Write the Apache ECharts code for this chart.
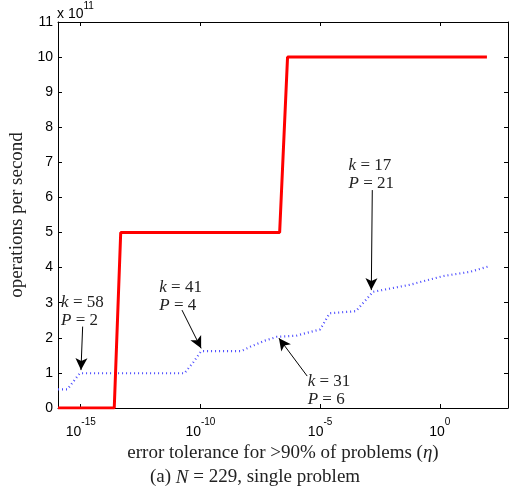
<!DOCTYPE html>
<html>
<head>
<meta charset="utf-8">
<script src="https://cdn.jsdelivr.net/npm/echarts@6/dist/echarts.min.js"></script>
<style>
  html, body { margin: 0; padding: 0; background: #fff; }
  #chart { width: 510px; height: 494px; }
</style>
</head>
<body>
<div id="chart"></div>
<script>
// x 是误差容限的指数 (log10 eta)，y 单位是 1e11 次/秒
var redExp = [-15.95, -13.6, -13.33, -6.69, -6.36, 1.97];
var redOps = [0, 0, 5, 5, 10, 10];

var blueExp = [-15.95, -15.56, -15.3, -15.04, -10.67, -10.3, -9.97, -8.3, -7.9, -7.3, -6.8, -6.0, -5.0, -4.6, -3.5, -2.93, -2.8, -1.26, 0.14, 1.26, 2.02];
var blueOps = [0.53, 0.53, 0.76, 0.99, 0.99, 1.3, 1.62, 1.62, 1.75, 1.92, 2.03, 2.06, 2.24, 2.70, 2.76, 3.2, 3.31, 3.51, 3.76, 3.88, 4.03];

var xTicks = [-15, -10, -5, 0];

// 标注：文字位置 + 箭头 (尾 -> 头)
var notes = [
  { k: 58, P: 2,  text: [-15.82, 2.74], from: [-14.92, 2.32], to: [-14.99, 1.08] },
  { k: 41, P: 4,  text: [-11.72, 3.19], from: [-10.77, 2.79], to: [-9.97, 1.70] },
  { k: 31, P: 6,  text: [-5.52, 0.49],  from: [-5.54, 0.91],  to: [-6.72, 1.99] },
  { k: 17, P: 21, text: [-3.81, 6.64],  from: [-2.82, 6.21],  to: [-2.86, 3.36] }
];

function zip(a, b) {
  return a.map(function (v, i) { return [v, b[i]]; });
}

var serif = '"Liberation Serif", "DejaVu Serif", serif';
var sans = '"Liberation Sans", Arial, sans-serif';

var chart = echarts.init(document.getElementById('chart'));

var option = {
  animation: false,
  backgroundColor: '#fff',
  grid: { left: 58, right: 2, top: 22, bottom: 86, outerBoundsMode: 'none', containLabel: false },
  xAxis: [{
    type: 'value',
    min: -15.95,
    max: 2.85,
    name: 'error tolerance for >90% of problems ({i|η})',
    nameLocation: 'middle',
    nameGap: 22,
    nameTextStyle: {
      fontFamily: serif, fontSize: 19, color: '#222',
      rich: { i: { fontFamily: serif, fontSize: 19, fontStyle: 'italic', color: '#222' } }
    },
    axisLine: { onZero: false, lineStyle: { color: '#000', width: 1 } },
    axisTick: { inside: true, length: 4, customValues: xTicks, lineStyle: { color: '#000' } },
    axisLabel: {
      customValues: xTicks,
      margin: 9,
      formatter: function (v) { return '{b|10}{s|' + v + '}'; },
      rich: {
        b: { fontFamily: sans, fontSize: 14, color: '#000', verticalAlign: 'bottom' },
        s: { fontFamily: sans, fontSize: 10, color: '#000', verticalAlign: 'top', padding: [0, 0, 12, 0] }
      }
    },
    splitLine: { show: false }
  }, {
    type: 'value',
    position: 'top',
    min: -15.95,
    max: 2.85,
    axisLine: { onZero: false, lineStyle: { color: '#000', width: 1 } },
    axisTick: { inside: true, length: 4, customValues: xTicks, lineStyle: { color: '#000' } },
    axisLabel: { show: false },
    splitLine: { show: false }
  }],
  yAxis: [{
    type: 'value',
    min: 0,
    max: 11,
    interval: 1,
    name: 'operations per second',
    nameLocation: 'middle',
    nameGap: 25,
    nameTextStyle: { fontFamily: serif, fontSize: 19, color: '#222' },
    axisLine: { show: true, onZero: false, lineStyle: { color: '#000', width: 1 } },
    axisTick: { show: true, inside: true, length: 4, lineStyle: { color: '#000' } },
    axisLabel: { fontFamily: sans, fontSize: 14, color: '#000', margin: 5 },
    splitLine: { show: false }
  }, {
    type: 'value',
    position: 'right',
    min: 0,
    max: 11,
    interval: 1,
    axisLine: { show: true, onZero: false, lineStyle: { color: '#000', width: 1 } },
    axisTick: { show: true, inside: true, length: 4, lineStyle: { color: '#000' } },
    axisLabel: { show: false },
    splitLine: { show: false }
  }],
  graphic: [{
    type: 'text',
    left: 57,
    top: 1,
    style: {
      text: '{b|x 10}{s|11}',
      rich: {
        b: { fontFamily: sans, fontSize: 14, fill: '#000', verticalAlign: 'bottom' },
        s: { fontFamily: sans, fontSize: 10, fill: '#000', verticalAlign: 'top', padding: [0, 0, 10, 0] }
      }
    }
  }, {
    type: 'text',
    left: 'center',
    top: 468,
    style: {
      text: '(a) {i|N} = 229, single problem',
      font: '19px ' + serif,
      fill: '#222',
      rich: { i: { fontFamily: serif, fontSize: 19, fontStyle: 'italic', fill: '#222' } }
    }
  }],
  series: [{
    name: 'blue',
    type: 'line',
    data: zip(blueExp, blueOps),
    showSymbol: false,
    lineStyle: { color: '#4a4aff', width: 2.2, type: [1, 3] },
    z: 2
  }, {
    name: 'red',
    type: 'line',
    data: zip(redExp, redOps),
    showSymbol: false,
    lineStyle: { color: '#ff0000', width: 3 },
    z: 3
  }, {
    name: 'notes',
    type: 'line',
    data: [],
    markLine: {
      silent: true,
      symbol: ['none', 'arrow'],
      symbolSize: [9, 12],
      label: { show: false },
      lineStyle: { color: '#000', width: 1, type: 'solid' },
      data: notes.map(function (n) {
        return [{ coord: n.from }, { coord: n.to }];
      })
    },
    markPoint: {
      silent: true,
      symbol: 'circle',
      symbolSize: 0,
      data: notes.map(function (n) {
        return {
          coord: n.text,
          label: {
            show: true,
            position: 'right',
            distance: 0,
            formatter: '{i|k} = ' + n.k + '\n{i|P} = ' + n.P,
            fontFamily: serif,
            fontSize: 17,
            lineHeight: 18,
            color: '#222',
            rich: { i: { fontFamily: serif, fontSize: 17, lineHeight: 18, fontStyle: 'italic', color: '#222' } }
          }
        };
      })
    }
  }]
};

chart.setOption(option);
</script>
</body>
</html>
